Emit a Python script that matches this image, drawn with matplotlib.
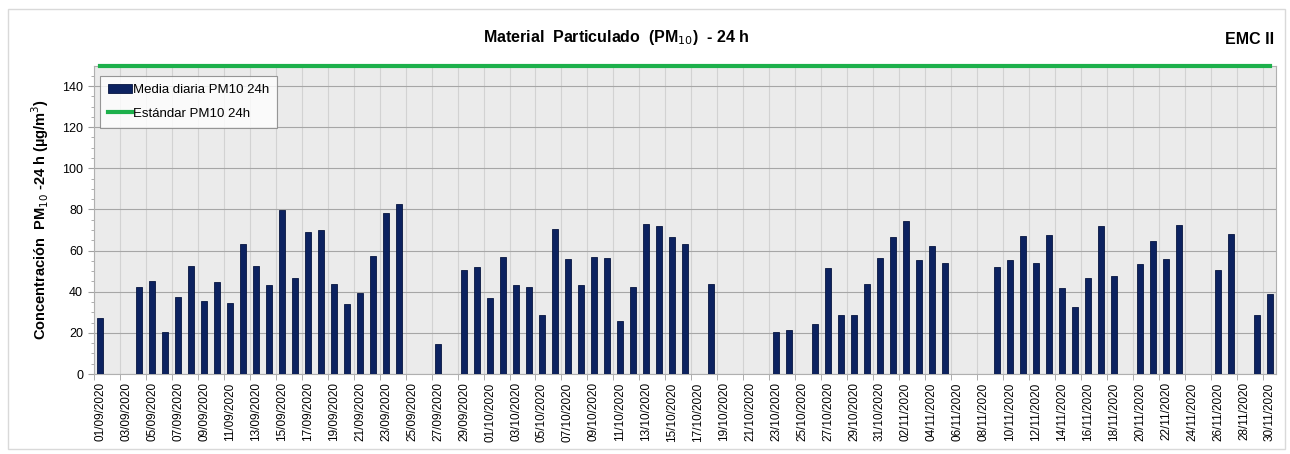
from matplotlib import pyplot as plt
from matplotlib.patches import Rectangle
import numpy as np
import pandas as pd

plt.rcParams['font.family'] = ['Liberation Sans', 'DejaVu Sans']

dates = pd.date_range('2020-09-01', '2020-11-30', freq='D')
labels = [d.strftime('%d/%m/%Y') for d in dates]

nan = np.nan
pm10 = [27, nan, nan, 42.3, 45, 20.3, 37.3, 52.5, 35.6, 44.6,
        34.4, 63.2, 52.5, 43.4, 79.7, 46.8, 69, 70.2, 43.6, 34.2,
        39.5, 57.2, 78.4, 82.6, nan, nan, 14.7, nan, 50.6, 51.9,
        36.8, 57, 43.1, 42.3, 28.7, 70.6, 55.9, 43.1, 57, 56.5,
        25.8, 42.3, 72.9, 71.8, 66.8, 63, nan, 43.9, nan, nan,
        nan, nan, 20.6, 21.5, nan, 24.5, 51.7, 28.7, 28.7, 43.9,
        56.5, 66.4, 74.5, 55.4, 62.2, 53.8, nan, nan, nan, 52.2,
        55.4, 66.9, 53.8, 67.4, 41.8, 32.6, 46.8, 71.8, 47.8, nan,
        53.5, 64.7, 55.9, 72.6, nan, nan, 50.4, 68.1, nan, 28.7,
        39]
standard = [150] * len(dates)

x = np.arange(len(dates))

fig = plt.figure(figsize=(12.9, 4.54), dpi=100)
fig.patches.append(Rectangle((0.006, 0.01), 0.99, 0.97, transform=fig.transFigure,
                             fill=False, edgecolor='#d9d9d9', linewidth=1))
ax = fig.add_axes([0.0725, 0.1762, 0.917, 0.6795])
ax.set_facecolor('#ebebeb')

bars = ax.bar(x, pm10, width=0.4, color='#0c2260', edgecolor='#061540', linewidth=0.6,
              label='Media diaria PM10 24h', zorder=3)
line, = ax.plot(x, standard, color='#1db04b', linewidth=3, label='Estándar PM10 24h',
                zorder=4, clip_on=False)

ax.set_xlim(-0.5, len(dates) - 0.5)
ax.set_ylim(0, 150)
ax.set_xticks(x[::2])
ax.set_xticklabels(labels[::2], rotation=90, fontsize=8.5)
ax.set_xticks(np.arange(-0.5, len(dates), 2), minor=True)
ax.tick_params(axis='x', which='major', length=0, pad=6)
ax.tick_params(axis='x', which='minor', length=4, color='#a0a0a0')
ax.set_yticks(np.arange(0, 141, 20))
ax.set_yticks(np.arange(0, 150, 5), minor=True)
ax.tick_params(axis='y', which='major', labelsize=9, length=4, color='#a0a0a0')
ax.tick_params(axis='y', which='minor', length=2, color='#a0a0a0')
ax.grid(axis='x', which='minor', color='#d2d2d2', linewidth=0.8, zorder=0)
ax.grid(axis='y', which='major', color='#a6a6a6', linewidth=0.8, zorder=0)
ax.set_axisbelow(True)
for s in ax.spines.values():
    s.set_color('#b0b0b0')
    s.set_linewidth(0.8)

ax.set_ylabel('Concentración  PM$_{10}$ -24 h (µg/m$^3$)', fontsize=10.5,
              fontweight='bold', labelpad=8)
fig.text(0.478, 0.918, 'Material  Particulado  (PM$_{10}$)  - 24 h', ha='center',
         va='center', fontsize=11.5, fontweight='bold')
fig.text(0.988, 0.913, 'EMC II', ha='right', va='center', fontsize=11.5,
         fontweight='bold')

leg = ax.legend([bars, line], ['Media diaria PM10 24h', 'Estándar PM10 24h'],
                loc='upper left', bbox_to_anchor=(0.0055, 0.966), fontsize=9.5,
                frameon=True, fancybox=False, edgecolor='#7f7f7f',
                handlelength=1.8, handletextpad=0.1, borderpad=0.6,
                labelspacing=0.85, borderaxespad=0)
leg.get_frame().set_linewidth(0.8)

fig.savefig('out.png', dpi=100, facecolor='white')
